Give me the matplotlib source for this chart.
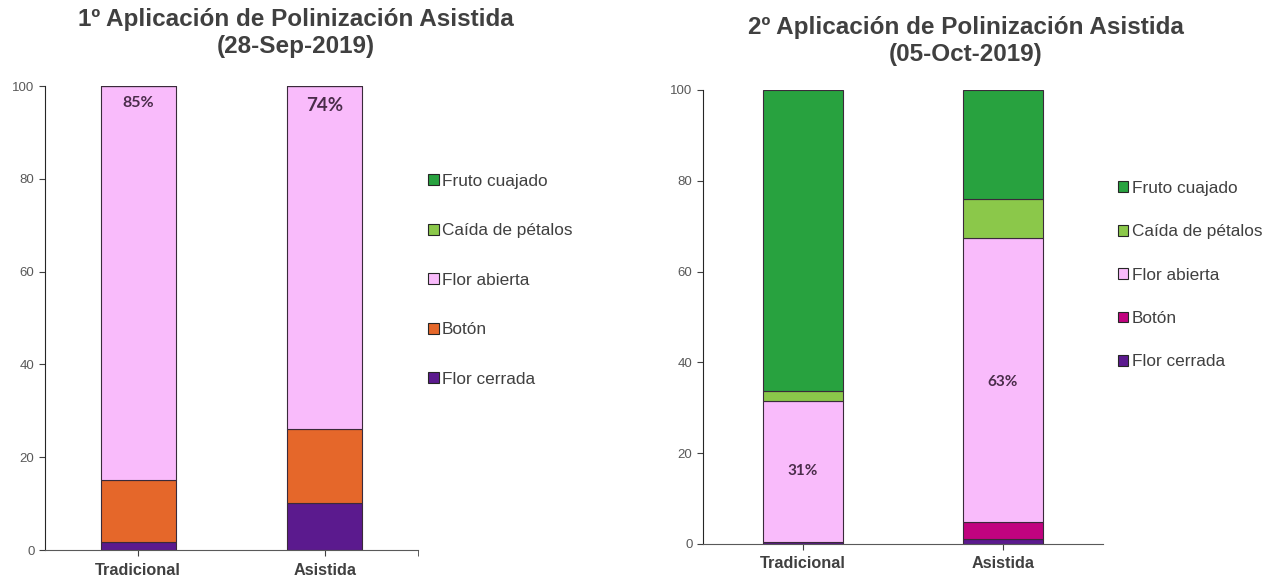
import matplotlib
matplotlib.use('Agg')
import matplotlib.pyplot as plt
from matplotlib.patches import Patch

# datos
categorias = ['Tradicional', 'Asistida']
estados = ['Flor cerrada', 'Botón', 'Flor abierta', 'Caída de pétalos', 'Fruto cuajado']

# 1º aplicacion (28-Sep-2019)
flor_cerrada_1 = [1.7, 10.2]
boton_1 = [13.3, 15.8]
flor_abierta_1 = [85.0, 74.0]
caida_1 = [0.0, 0.0]
fruto_1 = [0.0, 0.0]

# 2º aplicacion (05-Oct-2019)
flor_cerrada_2 = [0.5, 1.0]
boton_2 = [0.0, 3.8]
flor_abierta_2 = [31.0, 62.6]
caida_2 = [2.2, 8.5]
fruto_2 = [66.3, 24.1]

titulo_1 = '1º Aplicación de Polinización Asistida\n(28-Sep-2019)'
titulo_2 = '2º Aplicación de Polinización Asistida\n(05-Oct-2019)'

colores_1 = ['#5b1a8e', '#e5672a', '#f9bbfb', '#8bc84a', '#28a23f']
colores_2 = ['#5b1a8e', '#c1037f', '#f9bbfb', '#8bc84a', '#28a23f']

TXT = '#404040'
EDGE = '#3a2a3a'
FONT = 'Liberation Sans'

fig = plt.figure(figsize=(12.7, 5.8), dpi=100)


def dibujar(ax, series, colores, etiquetas_pos, tam_pct):
    bottom = [0.0] * len(categorias)
    for vals, col in zip(series, colores):
        ax.bar(range(len(categorias)), vals, width=0.4, bottom=bottom,
               color=col, edgecolor=EDGE, linewidth=0.8)
        bottom = [b + v for b, v in zip(bottom, vals)]
    ax.set_xlim(-0.5, 1.5)
    ax.set_ylim(0, 100)
    ax.set_yticks([0, 20, 40, 60, 80, 100])
    ax.set_xticks(range(len(categorias)))
    ax.set_xticklabels(categorias, fontsize=11.7, fontweight='bold', color=TXT, family=FONT)
    for lab in ax.get_yticklabels():
        lab.set_fontsize(9.5)
        lab.set_color('#595959')
        lab.set_family(FONT)
    ax.tick_params(axis='both', direction='out', length=4, width=0.8, color='#404040')
    ax.tick_params(axis='x', pad=5)
    for s in ['top', 'right']:
        ax.spines[s].set_visible(False)
    ax.spines['left'].set_color('#262626')
    ax.spines['bottom'].set_color('#595959')
    # porcentaje de flor abierta
    fa = series[2]
    for i, (y, fs) in enumerate(zip(etiquetas_pos, tam_pct)):
        ax.text(i, y, f'{fa[i]:.0f}%', ha='center', va='center', fontsize=fs,
                fontweight='bold', color='#4a2c4a', family='Lato')


ax1 = fig.add_axes([0.0354, 0.0517, 0.2937, 0.8])
dibujar(ax1, [flor_cerrada_1, boton_1, flor_abierta_1, caida_1, fruto_1],
        colores_1, [96.3, 95.9], [11.5, 13.5])
ax1.set_xticks([1.5], minor=True)
ax1.tick_params(axis='x', which='minor', length=4, color='#404040')

ax2 = fig.add_axes([0.5535, 0.0621, 0.315, 0.7828])
dibujar(ax2, [flor_cerrada_2, boton_2, flor_abierta_2, caida_2, fruto_2],
        colores_2, [16.1, 35.7], [11, 11])

fig.text(296 / 1270, 1 - 33 / 580, titulo_1, ha='center', va='center', fontsize=17.5,
         fontweight='bold', color=TXT, family=FONT, linespacing=1.25)
fig.text(966 / 1270, 1 - 41 / 580, titulo_2, ha='center', va='center', fontsize=17.5,
         fontweight='bold', color=TXT, family=FONT, linespacing=1.25)


def leyenda(colores, x, y, esp):
    handles = [Patch(facecolor=c, edgecolor='#262626', linewidth=0.8)
               for c in colores[::-1]]
    fig.legend(handles, estados[::-1], loc='upper left', bbox_to_anchor=(x, y),
               frameon=False, handlelength=0.6, handleheight=0.6, handletextpad=0.2,
               labelspacing=esp, prop={'family': FONT, 'size': 12.4},
               labelcolor=TXT)


leyenda(colores_1, 0.325, 0.727, 2.0)
leyenda(colores_2, 0.868, 0.715, 1.65)

fig.savefig('out.png', dpi=100)
